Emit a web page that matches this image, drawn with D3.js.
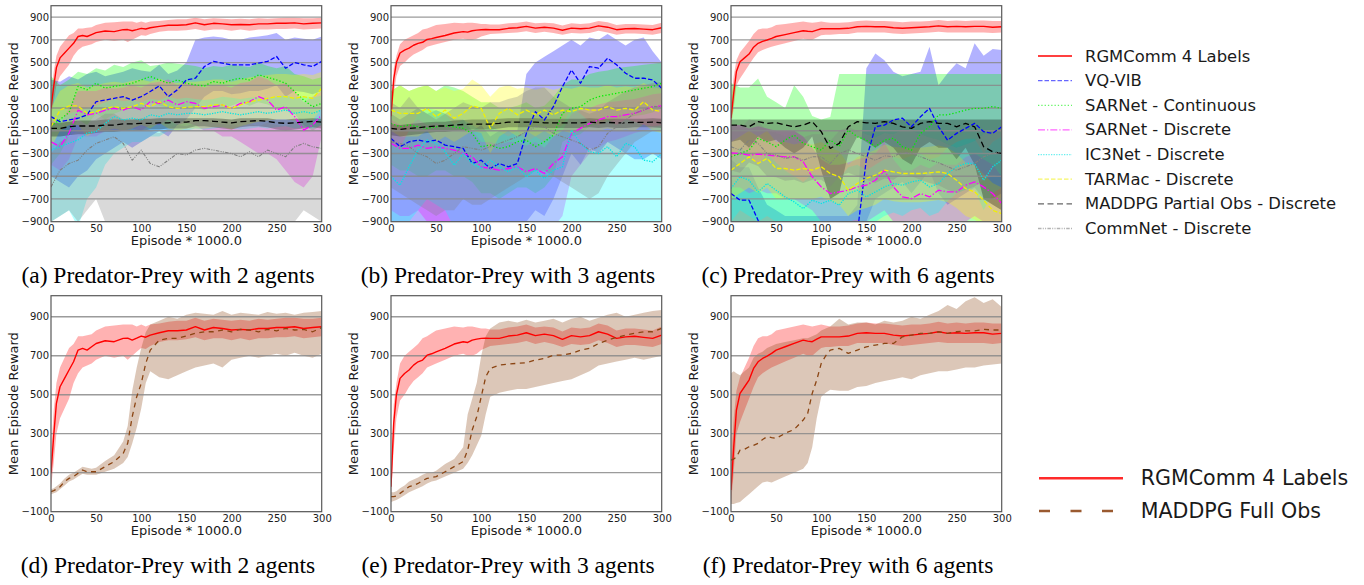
<!DOCTYPE html>
<html><head><meta charset="utf-8">
<script src="https://cdn.jsdelivr.net/npm/d3@7"></script>
<style>html,body{margin:0;padding:0;background:#fff;}svg{display:block;}</style>
</head><body><svg id="c" width="1364" height="585"></svg>
<script>
// ---------- categories ----------
const EP_A = [0,3,6,10,15,20,25,30,35,40,45,50,60,70,80,85,90,95,100,105,110,120,130,140,150,160,170,180,190,200,210,220,230,240,250,260,270,280,290,300];
const EP_B = [0,10,20,30,40,50,60,70,80,90,100,110,120,130,140,150,160,170,180,190,200,210,220,230,240,250,260,270,280,290,300];
const TOP_TICKS = [-900,-700,-500,-300,-100,100,300,500,700,900];
const BOT_TICKS = [-100,100,300,500,700,900];
const X_TICKS = [0,50,100,150,200,250,300];
const LEGEND_TOP = ["RGMComm 4 Labels","VQ-VIB","SARNet - Continuous","SARNet - Discrete","IC3Net - Discrete","TARMac - Discrete","MADDPG Partial Obs - Discrete","CommNet - Discrete"];
const LEGEND_BOT = ["RGMComm 4 Labels","MADDPG Full Obs"];
const CAPTIONS = ["(a) Predator-Prey with 2 agents","(b) Predator-Prey with 3 agents","(c) Predator-Prey with 6 agents","(d) Predator-Prey with 2 agents","(e) Predator-Prey with 3 agents","(f) Predator-Prey with 6 agents"];

// ---------- RGMComm (EP_A) ----------
const rgm2_mean = [97,290,456,541,584,627,669,729,738,729,746,763,777,772,789,790,780,790,801,795,806,818,828,828,832,849,832,845,840,832,835,832,840,840,845,845,849,840,845,849];
const rgm2_lo = [20,150,300,380,430,480,560,610,640,650,660,680,700,690,700,680,700,720,740,735,750,770,780,780,785,795,780,790,790,780,790,780,790,790,795,795,800,790,795,800];
const rgm2_hi = [180,420,560,640,690,740,760,800,800,805,810,830,850,855,860,860,860,850,860,850,860,865,875,880,880,895,880,890,885,880,885,880,890,885,890,895,895,890,890,895];
const rgm3_mean = [28,353,500,584,609,627,652,669,678,703,710,720,738,760,772,768,780,785,789,790,789,789,801,806,818,803,811,803,784,803,797,803,823,811,789,797,800,794,789,806];
const rgm3_lo = [-20,220,380,470,500,540,570,590,610,640,650,660,680,700,710,700,700,710,730,740,750,755,760,765,775,760,770,760,745,760,755,760,780,765,745,755,755,750,745,760];
const rgm3_hi = [100,450,560,660,700,720,740,760,790,800,815,830,840,850,845,850,850,845,840,840,835,835,845,850,860,845,850,845,825,845,840,845,865,855,830,840,840,835,830,850];
const rgm6_mean = [11,230,421,507,541,575,635,669,686,698,712,729,746,763,780,775,772,785,797,797,797,797,801,815,818,815,815,806,801,806,811,815,823,815,818,815,818,818,811,815];
const rgm6_lo = [-60,100,300,360,420,480,540,590,610,625,640,650,670,690,710,700,700,720,740,745,745,750,750,765,765,765,765,755,750,755,760,765,770,765,765,765,765,765,760,765];
const rgm6_hi = [150,380,520,590,640,690,750,790,800,800,810,830,840,850,860,855,850,855,860,855,850,850,855,865,870,865,865,860,855,860,860,865,875,865,870,865,870,870,865,865];

// ---------- MADDPG Full Obs (EP_A) ----------
const mf2_mean = [3,8,15,28,54,71,80,97,114,105,105,105,131,157,199,251,387,490,558,661,729,780,789,789,801,815,823,823,832,823,835,832,823,835,828,840,832,835,823,845];
const mf2_lo = [-10,-5,0,15,35,55,65,80,95,90,90,90,105,120,150,180,250,330,430,560,620,590,580,600,620,640,650,660,640,680,690,700,690,700,710,700,715,700,690,710];
const mf2_hi = [15,20,30,45,70,90,100,115,130,125,120,125,160,190,260,340,520,640,740,820,860,880,900,890,910,920,915,910,930,910,920,915,910,925,915,920,910,920,925,930];
const mf3_mean = [-23,-23,-20,-6,11,28,35,45,60,71,75,80,105,131,157,216,319,387,490,592,635,652,657,661,664,678,686,703,703,712,729,738,763,780,794,806,815,823,823,840];
const mf3_lo = [-50,-45,-40,-30,-15,0,10,20,30,45,55,60,80,100,120,150,190,240,290,400,490,510,520,530,530,540,550,560,570,580,600,620,650,660,670,680,690,680,690,700];
const mf3_hi = [0,0,5,20,35,55,65,75,90,100,100,110,145,170,230,400,480,560,700,800,840,870,880,870,885,870,880,890,870,890,900,880,895,910,920,900,910,920,930,935];
const mf6_mean = [165,170,180,216,220,233,240,251,270,285,280,276,302,322,370,404,507,575,661,700,729,738,712,729,746,755,763,763,797,806,815,815,823,815,823,828,828,835,832,832];
const mf6_lo = [-60,-60,-55,-50,-30,-10,10,30,50,55,50,60,80,100,120,150,230,380,490,510,525,520,520,540,545,560,570,580,590,580,600,610,620,620,630,640,640,650,655,660];
const mf6_hi = [610,620,610,600,620,640,690,710,720,740,750,760,770,780,790,790,800,810,830,840,850,890,860,870,870,860,880,870,880,900,890,910,930,960,940,980,1000,970,990,950];

// ---------- 2 agents (EP_B) ----------
const vq2_mean = [24,-20,-5,10,40,156,170,185,200,170,200,245,295,200,260,347,362,465,510,495,480,480,480,495,510,553,450,500,480,465,510];
const vq2_lo = [-500,-550,-600,-500,-450,-350,-300,-250,-200,-250,-200,-150,-100,-150,-50,0,100,200,250,250,220,230,250,250,270,300,200,250,240,220,250];
const vq2_hi = [350,330,380,350,400,420,380,400,420,450,430,420,480,400,430,500,700,720,730,720,700,700,720,730,740,760,700,720,710,700,730];
const sc2_mean = [-60,0,60,290,260,318,275,290,303,318,347,377,347,318,347,318,303,295,333,318,347,362,347,391,370,347,318,245,170,112,141];
const sc2_lo = [-400,-300,-150,0,-50,50,0,50,80,100,100,150,120,100,120,100,100,80,120,100,120,150,120,150,130,100,80,50,-50,-100,-50];
const sc2_hi = [380,300,350,420,400,450,430,480,460,500,520,470,480,500,490,480,470,450,470,460,480,470,460,500,470,450,470,400,380,350,370];
const sd2_mean = [-197,-240,-120,82,40,53,82,97,82,112,82,156,141,170,127,156,141,97,112,127,97,141,156,200,170,82,112,24,-94,-50,40];
const sd2_lo = [-400,-450,-350,-150,-150,-150,-100,-100,-100,-80,-100,-50,-50,0,-50,-30,-50,-100,-100,-150,-150,-200,-250,-300,-300,-350,-450,-550,-600,-500,-150];
const sd2_hi = [0,-50,100,250,250,250,280,270,280,300,280,320,330,350,300,320,300,280,300,300,280,320,330,380,350,300,320,250,150,200,250];
const ic2_mean = [-270,-240,-210,-180,-120,-108,-35,24,-5,10,-5,40,24,53,40,53,53,40,53,68,53,40,53,68,53,68,82,53,68,53,82];
const ic2_lo = [-900,-850,-800,-950,-700,-600,-400,-300,-250,-200,-200,-150,-150,-100,-100,-100,-80,-90,-80,-70,-80,-90,-80,-70,-80,-70,-60,-80,-70,-80,-50];
const ic2_hi = [-50,0,50,80,100,120,150,180,160,170,150,180,170,200,180,190,180,170,180,200,190,180,190,200,190,200,210,190,200,190,210];
const tm2_mean = [-65,82,118,118,53,68,97,112,97,112,141,112,156,112,97,106,112,112,127,127,97,127,156,170,185,200,200,185,200,185,274];
const tm2_lo = [-250,-100,-50,-50,-150,-100,-100,-80,-100,-80,-50,-80,-30,-80,-100,-80,-80,-80,-70,-70,-90,-60,-40,-20,-10,0,0,-10,0,-10,100];
const tm2_hi = [100,250,300,320,280,300,320,330,320,340,350,330,360,330,320,330,330,340,350,350,330,350,370,380,390,400,400,390,400,390,420];
const mp2_mean = [-79,-79,-65,-58,-58,-58,-50,-50,-40,-40,-35,-35,-30,-30,-24,-24,-11,-11,-17,-24,-30,-20,-15,-11,-17,-30,-35,-30,-24,-17,-24];
const mp2_lo = [-150,-150,-140,-130,-130,-120,-110,-110,-100,-100,-100,-90,-90,-80,-80,-80,-60,-60,-70,-80,-90,-70,-60,-60,-70,-90,-100,-90,-80,-70,-80];
const mp2_hi = [-30,-30,-20,-10,-10,-10,0,0,0,0,5,5,10,10,10,10,10,10,10,5,0,10,10,10,10,0,0,5,5,10,5];
const cn2_mean = [-594,-447,-388,-359,-270,-211,-182,-153,-211,-359,-270,-388,-417,-359,-300,-314,-270,-255,-270,-285,-300,-329,-285,-329,-270,-300,-329,-241,-211,-241,-255];
const cn2_lo = [-900,-850,-800,-900,-800,-700,-900,-1000,-1100,-1200,-1100,-1200,-1200,-1200,-1100,-1100,-1000,-1000,-1000,-1050,-1100,-1100,-1050,-1100,-1000,-1050,-1100,-900,-800,-850,-900];
const cn2_hi = [-300,-200,-150,-100,-50,0,50,50,0,-100,-50,-100,-120,-80,-50,-60,-30,-20,-30,-40,-50,-60,-40,-60,-30,-50,-60,-20,0,-20,-30];

// ---------- 3 agents (EP_B) ----------
const vq3_mean = [-167,-240,-197,-182,-197,-182,-226,-240,-255,-388,-359,-432,-388,-417,-388,-123,68,-5,112,288,435,318,465,450,538,480,406,362,362,347,274];
const vq3_lo = [-900,-950,-900,-950,-1000,-950,-1000,-1000,-1000,-1100,-1100,-1100,-1100,-1100,-1000,-900,-800,-850,-700,-500,-300,-400,-250,-300,-200,-250,-300,-350,-350,-300,-350];
const vq3_hi = [50,0,50,100,50,80,50,0,0,-100,-50,-150,-100,-100,-100,400,500,550,600,650,700,650,720,700,750,700,650,700,720,600,500];
const sc3_mean = [-35,-65,-50,-65,-79,-65,-58,-65,-79,-123,-240,-226,-255,-240,-197,-182,-240,-197,-138,53,97,112,170,200,215,230,244,259,274,288,318];
const sc3_lo = [-400,-450,-450,-500,-500,-450,-450,-500,-500,-550,-650,-650,-700,-650,-600,-600,-650,-600,-500,-200,-150,-130,-60,-40,-20,0,10,30,40,60,100];
const sc3_hi = [250,300,250,280,300,250,300,280,250,200,150,150,100,100,120,150,100,120,200,300,350,350,400,420,430,450,460,470,480,490,500];
const sd3_mean = [-211,-255,-255,-226,-255,-240,-255,-270,-300,-329,-417,-432,-447,-432,-417,-461,-432,-476,-388,-329,-123,-79,-35,-5,24,24,40,53,82,112,118];
const sd3_lo = [-800,-850,-850,-800,-900,-950,-1000,-1000,-1000,-1000,-1000,-1000,-1000,-1000,-1000,-1000,-1000,-1000,-950,-850,-500,-400,-300,-250,-200,-180,-150,-120,-100,-80,-60];
const sd3_hi = [0,-50,-50,0,-50,-30,-50,-60,-80,-100,-200,-200,-220,-200,-200,-230,-200,-250,-150,-100,50,80,100,130,150,160,170,180,200,220,230];
const ic3_mean = [-505,-579,-417,-270,-182,-211,-285,-403,-300,-388,-432,-359,-417,-461,-417,-505,-447,-520,-447,-417,-94,-211,-285,-300,-240,-329,-211,-241,-359,-373,-300];
const ic3_lo = [-900,-950,-900,-800,-700,-750,-800,-950,-900,-1000,-1000,-1000,-1000,-1000,-1000,-1000,-1000,-1000,-1000,-1000,-1000,-1000,-1000,-1000,-1000,-1000,-1000,-1000,-1000,-1000,-1000];
const ic3_hi = [-200,-250,-100,50,100,80,50,-50,0,-50,-100,-50,-100,-150,-100,-200,-150,-200,-100,-50,100,50,-20,-50,0,-50,0,-20,-50,-60,-50];
const tm3_mean = [83,53,53,53,97,24,82,10,53,118,97,-80,53,97,40,82,40,82,40,82,68,97,82,82,112,82,97,82,156,82,68];
const tm3_lo = [-100,-150,-150,-150,-100,-200,-150,-200,-150,-100,-120,-300,-150,-100,-150,-100,-150,-100,-150,-100,-120,-90,-100,-100,-80,-100,-90,-100,-40,-100,-120];
const tm3_hi = [250,300,250,280,300,250,280,250,270,350,300,200,280,300,270,280,260,280,260,280,270,290,280,280,300,280,290,280,320,280,270];
const mp3_mean = [-79,-88,-79,-73,-65,-58,-58,-50,-45,-41,-41,-41,-35,-24,-24,-24,-24,-30,-30,-30,-30,-30,-24,-30,-27,-30,-30,-27,-27,-24,-30];
const mp3_lo = [-140,-150,-140,-130,-120,-110,-110,-100,-95,-90,-90,-90,-80,-70,-70,-70,-70,-75,-75,-75,-75,-75,-70,-75,-70,-75,-75,-70,-70,-70,-75];
const mp3_hi = [-40,-50,-40,-35,-25,-20,-20,-10,-5,0,0,0,5,10,10,10,10,5,5,5,5,5,10,5,5,5,5,5,5,10,5];
const cn3_mean = [-197,-211,-240,-300,-329,-388,-359,-300,-240,-255,-270,-240,-211,-182,-153,-108,-65,-65,-123,-153,-182,-211,-270,-240,-123,-65,-5,53,82,112,112];
const cn3_lo = [-600,-650,-700,-750,-800,-850,-800,-800,-700,-750,-750,-700,-650,-600,-550,-500,-450,-450,-500,-550,-600,-650,-700,-650,-500,-400,-300,-200,-150,-100,-100];
const cn3_hi = [150,100,200,100,50,0,50,100,150,120,100,150,150,180,200,250,280,280,200,150,100,80,50,80,150,200,250,280,300,320,330];

// ---------- 6 agents (EP_B) ----------
const vq6_mean = [-652,-711,-711,-888,-1000,-1050,-1100,-1100,-1100,-1100,-1100,-1100,-1100,-1100,-1000,-350,-65,-50,-5,10,-65,24,97,-65,-182,-123,-79,-35,-108,-123,-65];
const vq6_lo = [-950,-1000,-1000,-1100,-1200,-1200,-1300,-1300,-1300,-1300,-1300,-1300,-1300,-1300,-1200,-900,-700,-650,-600,-550,-650,-550,-450,-650,-750,-700,-650,-600,-700,-700,-650];
const vq6_hi = [-350,-420,-420,-600,-750,-800,-850,-850,-850,-850,-850,-850,-850,-850,-750,450,580,520,420,380,400,420,640,300,405,494,450,670,560,620,610];
const sc6_mean = [-329,-300,-270,-167,-197,-240,-182,-138,-211,-240,-270,-182,-240,-94,-153,-182,-240,-182,-167,-240,-270,-123,-65,40,40,60,82,97,97,112,97];
const sc6_lo = [-900,-900,-900,-950,-950,-950,-950,-950,-950,-950,-950,-950,-950,-950,-950,-950,-950,-950,-950,-950,-950,-950,-950,-950,-950,-950,-950,-950,-950,-950,-950];
const sc6_hi = [320,280,280,360,200,150,100,300,200,30,0,20,400,400,400,400,400,400,400,400,400,400,400,400,400,400,400,400,400,400,400];
const sd6_mean = [-294,-300,-314,-305,-314,-323,-329,-329,-373,-505,-594,-652,-638,-623,-594,-579,-535,-447,-594,-682,-697,-652,-682,-623,-638,-638,-579,-550,-594,-652,-740];
const sd6_lo = [-600,-600,-650,-620,-650,-650,-700,-700,-750,-800,-900,-950,-950,-950,-900,-900,-850,-800,-900,-950,-950,-950,-950,-900,-950,-950,-900,-850,-900,-950,-1000];
const sd6_hi = [-50,-50,-80,-60,-80,-100,-100,-100,-150,-250,-350,-400,-400,-380,-350,-330,-300,-200,-350,-450,-450,-400,-430,-380,-400,-400,-330,-300,-350,-400,-500];
const ic6_mean = [-608,-505,-535,-638,-564,-623,-682,-726,-785,-711,-740,-711,-755,-652,-623,-682,-638,-594,-564,-579,-550,-535,-594,-564,-476,-417,-388,-388,-535,-417,-359];
const ic6_lo = [-900,-800,-850,-900,-850,-900,-950,-1000,-1000,-950,-1000,-950,-1000,-900,-880,-950,-900,-850,-820,-850,-800,-780,-850,-820,-720,-650,-620,-620,-800,-650,-600];
const ic6_hi = [-350,-250,-300,-400,-300,-380,-450,-500,-550,-480,-500,-480,-520,-420,-400,-450,-400,-350,-330,-350,-320,-300,-350,-330,-250,-200,-170,-170,-300,-200,-150];
const tm6_mean = [-447,-388,-329,-388,-343,-432,-432,-447,-432,-447,-417,-476,-505,-623,-564,-520,-491,-447,-461,-476,-476,-476,-470,-461,-476,-535,-608,-638,-711,-800,-829];
const tm6_lo = [-700,-650,-600,-650,-600,-700,-700,-700,-700,-700,-680,-720,-750,-850,-800,-780,-750,-700,-720,-730,-730,-730,-720,-710,-730,-780,-850,-880,-950,-1050,-1080];
const tm6_hi = [-200,-150,-100,-150,-100,-200,-200,-220,-200,-220,-200,-250,-280,-400,-330,-300,-270,-220,-240,-250,-250,-250,-240,-230,-250,-300,-380,-400,-480,-560,-600];
const mp6_mean = [-50,-50,-65,-20,-35,-30,-50,-65,-50,-20,-108,-255,-211,-65,-20,-30,-35,-20,-35,-65,-79,-35,-20,-35,-35,-65,-35,-65,-240,-285,-300];
const mp6_lo = [-200,-180,-250,-150,-200,-180,-250,-300,-250,-150,-450,-700,-650,-300,-150,-200,-250,-200,-250,-350,-400,-250,-200,-250,-250,-350,-250,-400,-700,-750,-800];
const mp6_hi = [0,0,0,0,0,0,0,0,0,0,0,0,0,0,0,0,0,0,0,0,0,0,0,0,0,0,0,0,0,0,0];
const cn6_mean = [-241,-270,-182,-211,-300,-314,-343,-329,-359,-329,-329,-388,-300,-270,-300,-329,-359,-320,-329,-285,-300,-329,-359,-380,-417,-447,-417,-388,-329,-300,-285];
const cn6_lo = [-450,-470,-380,-410,-500,-510,-540,-530,-560,-530,-530,-590,-500,-470,-500,-530,-560,-520,-530,-480,-500,-530,-560,-580,-620,-650,-620,-590,-530,-500,-480];
const cn6_hi = [-50,-80,0,-20,-100,-120,-150,-130,-160,-130,-130,-190,-100,-70,-100,-130,-160,-120,-130,-90,-100,-130,-160,-180,-220,-250,-220,-190,-130,-100,-90];

// ---------- styles ----------
const STY = {
  rgm: {c:"#ff0000", band:"#ff0000", dash:null, w:1.4},
  vq:  {c:"#0000ff", band:"#0000ff", dash:"4.5,2", w:1.3},
  sc:  {c:"#00ee00", band:"#00ff00", dash:"1.3,2", w:1.3},
  sd:  {c:"#ff00ff", band:"#ff00ff", dash:"7,2,1.3,2", w:1.3},
  ic:  {c:"#00e5e5", band:"#00ffff", dash:"1.3,1.3", w:1.3},
  tm:  {c:"#f0f000", band:"#ffff00", dash:"4.5,2", w:1.3},
  mp:  {c:"#000000", band:"#000000", dash:"6,3.5", w:1.3},
  cn:  {c:"#808080", band:"#808080", dash:"3.5,1.3,1,1.3,1,1.3", w:1.1},
  mf:  {c:"#8b4513", band:"#8b4513", dash:"5,4.5", w:1.3}
};
const TOP_KEYS = ["rgm","vq","sc","sd","ic","tm","mp","cn"];

function S(key, ep, m, lo, hi){ return {key, ep, m, lo, hi}; }

const panels = [
  {x0:51, top:5.7, bottom:221.7, dom:[-900,1000], ticks:TOP_TICKS, series:[
    S("rgm",EP_A,rgm2_mean,rgm2_lo,rgm2_hi), S("vq",EP_B,vq2_mean,vq2_lo,vq2_hi), S("sc",EP_B,sc2_mean,sc2_lo,sc2_hi),
    S("sd",EP_B,sd2_mean,sd2_lo,sd2_hi), S("ic",EP_B,ic2_mean,ic2_lo,ic2_hi), S("tm",EP_B,tm2_mean,tm2_lo,tm2_hi),
    S("mp",EP_B,mp2_mean,mp2_lo,mp2_hi), S("cn",EP_B,cn2_mean,cn2_lo,cn2_hi)], cap:0, capY:283},
  {x0:391, top:5.7, bottom:221.7, dom:[-900,1000], ticks:TOP_TICKS, series:[
    S("rgm",EP_A,rgm3_mean,rgm3_lo,rgm3_hi), S("vq",EP_B,vq3_mean,vq3_lo,vq3_hi), S("sc",EP_B,sc3_mean,sc3_lo,sc3_hi),
    S("sd",EP_B,sd3_mean,sd3_lo,sd3_hi), S("ic",EP_B,ic3_mean,ic3_lo,ic3_hi), S("tm",EP_B,tm3_mean,tm3_lo,tm3_hi),
    S("mp",EP_B,mp3_mean,mp3_lo,mp3_hi), S("cn",EP_B,cn3_mean,cn3_lo,cn3_hi)], cap:1, capY:283},
  {x0:731, top:5.7, bottom:221.7, dom:[-900,1000], ticks:TOP_TICKS, series:[
    S("rgm",EP_A,rgm6_mean,rgm6_lo,rgm6_hi), S("vq",EP_B,vq6_mean,vq6_lo,vq6_hi), S("sc",EP_B,sc6_mean,sc6_lo,sc6_hi),
    S("sd",EP_B,sd6_mean,sd6_lo,sd6_hi), S("ic",EP_B,ic6_mean,ic6_lo,ic6_hi), S("tm",EP_B,tm6_mean,tm6_lo,tm6_hi),
    S("mp",EP_B,mp6_mean,mp6_lo,mp6_hi), S("cn",EP_B,cn6_mean,cn6_lo,cn6_hi)], cap:2, capY:283},
  {x0:51, top:295.7, bottom:511.7, dom:[-100,1008], ticks:BOT_TICKS, series:[
    S("rgm",EP_A,rgm2_mean,rgm2_lo,rgm2_hi), S("mf",EP_A,mf2_mean,mf2_lo,mf2_hi)], cap:3, capY:573},
  {x0:391, top:295.7, bottom:511.7, dom:[-100,1008], ticks:BOT_TICKS, series:[
    S("rgm",EP_A,rgm3_mean,rgm3_lo,rgm3_hi), S("mf",EP_A,mf3_mean,mf3_lo,mf3_hi)], cap:4, capY:573},
  {x0:731, top:295.7, bottom:511.7, dom:[-100,1008], ticks:BOT_TICKS, series:[
    S("rgm",EP_A,rgm6_mean,rgm6_lo,rgm6_hi), S("mf",EP_A,mf6_mean,mf6_lo,mf6_hi)], cap:5, capY:573}
];

const svg = d3.select("#c");
const defs = svg.append("defs");
const FONT = "DejaVu Sans, Verdana, sans-serif";
const PW = 270.7;
const fmt = d => d < 0 ? "\u2212" + Math.abs(d) : String(d);

panels.forEach((p, i) => {
  const x = d3.scaleLinear().domain([0,300]).range([p.x0, p.x0 + PW]);
  const y = d3.scaleLinear().domain(p.dom).range([p.bottom, p.top]);
  const g = svg.append("g");
  const cid = "clip" + i;
  defs.append("clipPath").attr("id", cid).append("rect")
    .attr("x", p.x0).attr("y", p.top).attr("width", PW).attr("height", p.bottom - p.top);
  const plot = g.append("g").attr("clip-path", `url(#${cid})`);

  // bands
  p.series.forEach(s => {
    const st = STY[s.key];
    const area = d3.area().x((d, j) => x(s.ep[j])).y0((d, j) => y(s.lo[j])).y1((d, j) => y(s.hi[j]));
    plot.append("path").datum(s.m).attr("d", area).attr("fill", st.band).attr("fill-opacity", 0.3).attr("stroke", "none");
  });
  // grid
  plot.selectAll("line.grid").data(p.ticks).enter().append("line")
    .attr("x1", p.x0).attr("x2", p.x0 + PW).attr("y1", d => y(d)).attr("y2", d => y(d))
    .attr("stroke", "#8a8a8a").attr("stroke-width", 1.3).attr("stroke-opacity", 0.85);
  // lines
  p.series.forEach(s => {
    const st = STY[s.key];
    const line = d3.line().x((d, j) => x(s.ep[j])).y(d => y(d));
    plot.append("path").datum(s.m).attr("d", line).attr("fill", "none")
      .attr("stroke", st.c).attr("stroke-width", st.w)
      .attr("stroke-dasharray", st.dash).attr("stroke-linejoin", "round");
  });
  // frame
  g.append("rect").attr("x", p.x0).attr("y", p.top).attr("width", PW).attr("height", p.bottom - p.top)
    .attr("fill", "none").attr("stroke", "#595959").attr("stroke-width", 1.2);
  // axes
  const ya = g.append("g").attr("transform", `translate(${p.x0},0)`)
    .call(d3.axisLeft(y).tickValues(p.ticks).tickSize(0).tickPadding(2).tickFormat(fmt));
  ya.select(".domain").remove();
  ya.attr("font-family", FONT).attr("font-size", 10);
  ya.selectAll("text").attr("fill", "#1a1a1a");
  const xa = g.append("g").attr("transform", `translate(0,${p.bottom})`)
    .call(d3.axisBottom(x).tickValues(X_TICKS).tickSize(0).tickPadding(3).tickFormat(d => String(d)));
  xa.select(".domain").remove();
  xa.attr("font-family", FONT).attr("font-size", 10);
  xa.selectAll("text").attr("fill", "#1a1a1a");
  // labels
  g.append("text").attr("x", p.x0 + PW / 2).attr("y", p.bottom + 23.3).attr("text-anchor", "middle")
    .attr("font-family", FONT).attr("font-size", 13).attr("fill", "#1a1a1a").text("Episode * 1000.0");
  const cy = (p.top + p.bottom) / 2, lx = p.x0 - 37.7;
  g.append("text").attr("transform", `translate(${lx},${cy}) rotate(-90)`).attr("text-anchor", "middle")
    .attr("dominant-baseline", "central")
    .attr("font-family", FONT).attr("font-size", 13).attr("fill", "#1a1a1a").text("Mean Episode Reward");
  // caption
  g.append("text").attr("x", 168 + 340 * (i % 3)).attr("y", p.capY).attr("text-anchor", "middle")
    .attr("font-family", "Liberation Serif, Times New Roman, serif").attr("font-size", 23.5).attr("fill", "#000")
    .text(CAPTIONS[p.cap]);
});

// legend top
const lgT = svg.append("g");
LEGEND_TOP.forEach((name, k) => {
  const st = STY[TOP_KEYS[k]];
  const yy = 56 + 24.64 * k;
  lgT.append("line").attr("x1", 1038).attr("x2", 1072).attr("y1", yy).attr("y2", yy)
    .attr("stroke", st.c).attr("stroke-width", 1.3).attr("stroke-dasharray", st.dash)
    .attr("stroke-opacity", k === 0 ? 1 : 0.6);
  lgT.append("text").attr("x", 1085).attr("y", yy).attr("dominant-baseline", "central")
    .attr("font-family", FONT).attr("font-size", 16.4).attr("fill", "#1a1a1a").text(name);
});
// legend bottom
const lgB = svg.append("g");
const BKEYS = ["rgm", "mf"];
LEGEND_BOT.forEach((name, k) => {
  const st = STY[BKEYS[k]];
  const yy = 478.3 + 32.7 * k;
  lgB.append("line").attr("x1", 1039).attr("x2", 1123).attr("y1", yy).attr("y2", yy)
    .attr("stroke", k === 0 ? "#ff2a2a" : "#9a5a30").attr("stroke-width", 2.6)
    .attr("stroke-dasharray", k === 0 ? null : "11,20.5");
  lgB.append("text").attr("x", 1140.7).attr("y", yy).attr("dominant-baseline", "central")
    .attr("font-family", FONT).attr("font-size", 20.6).attr("fill", "#1a1a1a").text(name);
});
</script></body></html>
